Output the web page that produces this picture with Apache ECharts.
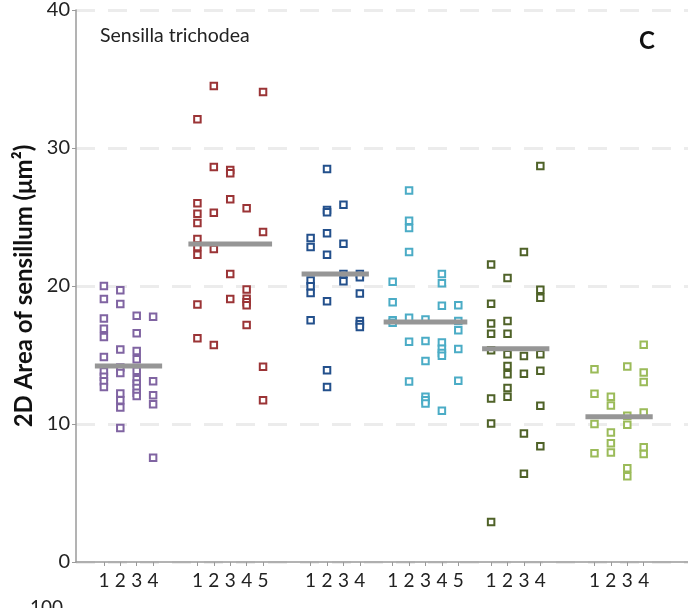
<!DOCTYPE html>
<html>
<head>
<meta charset="utf-8">
<script src="https://cdn.jsdelivr.net/npm/echarts@6/dist/echarts.min.js"></script>
<style>
  html, body { margin: 0; padding: 0; background: #ffffff; }
  #chart { width: 688px; height: 608px; }
</style>
</head>
<body>
<div id="chart"></div>
<script>
// Sensillum area per individual (columns), grouped by population
const purpleCols = [
  [20.0, 19.05, 17.65, 16.9, 16.3, 14.86, 13.8, 13.43, 13.1, 12.69],
  [19.7, 18.69, 15.39, 14.09, 13.7, 12.21, 11.73, 11.2, 9.71],
  [17.84, 16.57, 15.29, 14.69, 13.85, 13.25, 12.93, 12.6, 12.26, 12.02],
  [17.77, 13.1, 12.09, 11.44, 7.55]
];
const redCols = [
  [32.09, 26.0, 25.23, 24.56, 23.4, 22.82, 22.27, 18.66, 16.21],
  [34.5, 28.63, 25.31, 22.68, 15.73],
  [28.41, 28.17, 26.29, 20.87, 19.05],
  [25.64, 19.75, 19.07, 18.83, 18.61, 17.17],
  [34.06, 23.91, 14.14, 11.73]
];
const navyCols = [
  [23.47, 22.82, 20.4, 19.99, 19.5, 17.51],
  [28.48, 25.5, 25.35, 23.83, 22.27, 18.9, 13.9, 12.69],
  [25.88, 23.07, 20.87, 20.35],
  [20.87, 20.64, 19.46, 17.46, 17.22, 17.03]
];
const aquaCols = [
  [20.3, 18.83, 17.51, 17.33],
  [26.92, 24.73, 24.2, 22.46, 17.7, 15.96, 13.08],
  [17.58, 16.01, 14.57, 11.97, 11.73, 11.49],
  [20.87, 20.2, 18.56, 15.9, 15.45, 15.15, 14.95, 10.96],
  [18.61, 17.46, 16.79, 15.44, 13.13]
];
const oliveCols = [
  [21.55, 18.72, 17.29, 16.54, 15.34, 11.85, 10.04, 2.9],
  [20.58, 17.46, 16.54, 15.05, 14.21, 13.61, 12.6, 11.97],
  [22.46, 14.93, 13.65, 9.32, 6.39],
  [28.7, 19.72, 19.14, 15.05, 13.85, 11.32, 8.38]
];
const limeCols = [
  [13.97, 12.19, 10.0, 7.88],
  [11.97, 11.34, 9.39, 8.6, 7.93],
  [14.16, 10.6, 9.95, 6.8, 6.22],
  [15.75, 13.73, 13.05, 10.84, 8.31, 7.83]
];
const groupMeans = [14.21, 23.04, 20.87, 17.39, 15.46, 10.53];
const columnLabels = [
  ['1', '2', '3', '4'],
  ['1', '2', '3', '4', '5'],
  ['1', '2', '3', '4'],
  ['1', '2', '3', '4', '5'],
  ['1', '2', '3', '4'],
  ['1', '2', '3', '4']
];
const yTicks = [0, 10, 20, 30, 40];

const groups = [purpleCols, redCols, navyCols, aquaCols, oliveCols, limeCols];
const groupColors = ['#8064A2', '#9B3436', '#23508C', '#4BACC6', '#4F6228', '#9BBB59'];

// Layout: x position (axis units) of each group's first column; columns sit 1 unit apart
const groupStart = [1, 6.7, 13.6, 18.6, 24.6, 30.9];
const meanPad = 0.55;
const FONT = 'Lato, "Open Sans", sans-serif';

const tickValues = [];
const tickText = {};
groups.forEach((cols, g) => {
  cols.forEach((_, c) => {
    const x = +(groupStart[g] + c).toFixed(2);
    tickValues.push(x);
    tickText[x.toFixed(2)] = columnLabels[g][c];
  });
});

const series = [];
groups.forEach((cols, g) => {
  const pts = [];
  cols.forEach((vals, c) => vals.forEach(v => pts.push([groupStart[g] + c, v])));
  series.push({
    type: 'scatter',
    data: pts,
    symbol: 'rect',
    symbolSize: 6.5,
    itemStyle: { color: '#ffffff', borderColor: groupColors[g], borderWidth: 2, opacity: 1 },
    z: 3,
    silent: true
  });
  series.push({
    type: 'line',
    data: [
      [groupStart[g] - meanPad, groupMeans[g]],
      [groupStart[g] + cols.length - 1 + meanPad, groupMeans[g]]
    ],
    symbol: 'none',
    lineStyle: { color: '#969696', width: 5, cap: 'butt' },
    z: 5,
    silent: true
  });
});

const chart = echarts.init(document.getElementById('chart'), null, { renderer: 'canvas' });
chart.setOption({
  animation: false,
  backgroundColor: '#ffffff',
  textStyle: { fontFamily: FONT },
  grid: { left: 76, right: 0, top: 8, bottom: 46, containLabel: false },
  xAxis: {
    type: 'value',
    min: -0.7,
    max: 36.6,
    splitLine: { show: false },
    axisLine: { show: true, onZero: false, lineStyle: { color: '#9a9a9a', width: 1.5 } },
    axisTick: { show: true, length: 4, customValues: tickValues, lineStyle: { color: '#9a9a9a', width: 1 } },
    axisLabel: {
      show: true,
      customValues: tickValues,
      margin: 9,
      fontSize: 19,
      color: '#222222',
      fontFamily: FONT,
      formatter: v => tickText[(+v).toFixed(2)] || ''
    }
  },
  yAxis: {
    type: 'value',
    min: yTicks[0],
    max: yTicks[yTicks.length - 1],
    interval: 10,
    name: '2D Area of sensillum (μm²)',
    nameLocation: 'middle',
    nameGap: 38,
    nameRotate: 90,
    nameTextStyle: { fontSize: 24, fontWeight: 'bold', color: '#111111', fontFamily: FONT },
    axisLine: { show: true, onZero: false, lineStyle: { color: '#9a9a9a', width: 1.5 } },
    axisTick: { show: true, length: 4, lineStyle: { color: '#9a9a9a' } },
    axisLabel: { fontSize: 20, color: '#222222', margin: 6, fontFamily: FONT },
    splitLine: { show: true, lineStyle: { color: '#ececec', width: 3, type: [19, 13] } }
  },
  graphic: [
    { type: 'text', left: 100, top: 26, style: { text: 'Sensilla trichodea', fontSize: 19.5, fill: '#222222', fontFamily: FONT } },
    { type: 'text', left: 639, top: 29, style: { text: 'C', fontSize: 24, fontWeight: 'bold', fill: '#111111', fontFamily: FONT } },
    { type: 'text', left: 30, top: 598, style: { text: '100', fontSize: 19, fill: '#222222', fontFamily: FONT } }
  ],
  series: series
});
</script>
</body>
</html>
